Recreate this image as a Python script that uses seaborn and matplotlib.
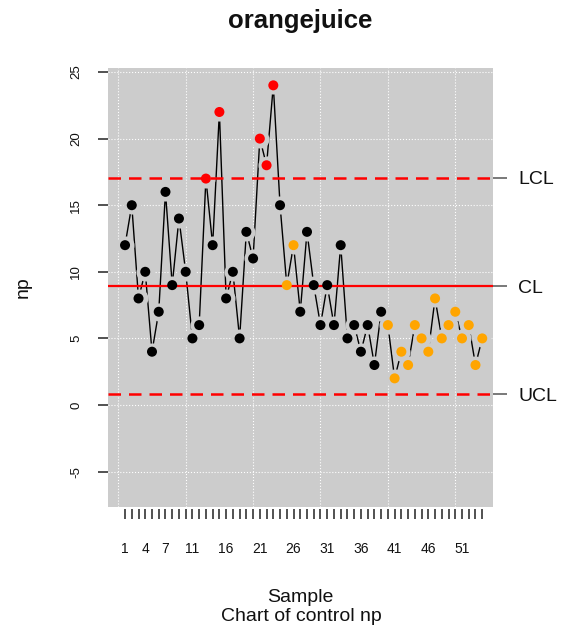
import matplotlib
matplotlib.use("Agg")
import matplotlib.pyplot as plt
import seaborn as sns
import pandas as pd

# orangejuice np chart data
sample = list(range(1, 55))
defects = [12, 15, 8, 10, 4, 7, 16, 9, 14, 10, 5, 6, 17, 12, 22, 8, 10, 5,
           13, 11, 20, 18, 24, 15, 9, 12, 7, 13, 9, 6, 9, 6, 12, 5, 6, 4,
           6, 3, 7, 6, 2, 4, 3, 6, 5, 4, 8, 5, 6, 7, 5, 6, 3, 5]
# point status: n = normal, out = beyond limit, run = violating run
status = (["n"] * 12 + ["out"] + ["n"] + ["out"] + ["n"] * 5 + ["out"] * 3
          + ["n"] + ["run"] * 2 + ["n"] * 13 + ["run"] * 15)
cl = 8.93
lcl_top = 17.05
ucl_bottom = 0.81
limit_labels = ["UCL", "CL", "LCL"]
xtick_labels = [1, 4, 7, 11, 16, 21, 26, 31, 36, 41, 46, 51]

df = pd.DataFrame({"sample": sample, "np": defects, "status": status})
palette = {"n": "black", "out": "#ff0000", "run": "#ffa500"}

sns.set_style("darkgrid", {"axes.facecolor": "#cccccc", "grid.color": "white",
                           "grid.linestyle": ":", "grid.linewidth": 1.0,
                           "text.color": "#111111", "axes.labelcolor": "#111111",
                           "xtick.color": "#111111", "ytick.color": "#111111"})
plt.rcParams["font.family"] = ["Liberation Sans", "DejaVu Sans"]

fig = plt.figure(figsize=(5.63, 6.34), dpi=100)
ax = fig.add_axes([0.1918, 0.2003, 0.6839, 0.6924])

sns.lineplot(data=df, x="sample", y="np", color="black", linewidth=1.0,
             ax=ax, zorder=2)
# mask around points gives the R type="b" gaps
sns.scatterplot(data=df, x="sample", y="np", color="#cccccc", s=170,
                linewidth=0, ax=ax, zorder=3, legend=False)
ax.axhline(cl, color="#ff0000", linewidth=1.6, zorder=4)
ax.axhline(lcl_top, color="#ff0000", linewidth=1.8, linestyle=(0, (5, 3.2)), zorder=4)
ax.axhline(ucl_bottom, color="#ff0000", linewidth=1.8, linestyle=(0, (5, 3.2)), zorder=4)
sns.scatterplot(data=df, x="sample", y="np", hue="status", palette=palette,
                s=52, linewidth=0, ax=ax, zorder=5, legend=False)

ax.set_xlim(-1.53, 55.6)
ax.set_ylim(-7.66, 25.3)
for sp in ax.spines.values():
    sp.set_visible(False)

ax.xaxis.remove_overlapping_locs = False
ax.set_xticks(sample)
ax.set_xticklabels([str(s) if s in xtick_labels else "" for s in sample],
                   fontsize=9)
ax.set_xticks(range(0, 51, 10), minor=True)
ax.set_yticks(range(-5, 26, 5))
ax.set_yticklabels([str(v) for v in range(-5, 26, 5)], rotation=90,
                   va="center", fontsize=9.5)
ax.grid(False, which="major", axis="x")
ax.grid(True, which="minor", axis="x")
ax.grid(True, which="major", axis="y")
ax.tick_params(axis="x", which="major", direction="out", length=7.5, width=1.1,
               color="#222222", pad=16, bottom=True)
ax.tick_params(axis="x", which="minor", length=0)
ax.spines["bottom"].set_position(("outward", 1.5))
ax.tick_params(axis="y", direction="out", length=7.5, width=1.1,
               color="#222222", pad=11, left=True)

ax2 = ax.twinx()
ax2.set_ylim(ax.get_ylim())
ax2.set_yticks([ucl_bottom, cl, lcl_top])
ax2.set_yticklabels(limit_labels, fontsize=14)
ax2.tick_params(axis="y", direction="out", length=10, width=1.1,
                color="#555555", pad=8, right=True)
ax2.grid(False)
for sp in ax2.spines.values():
    sp.set_visible(False)

ax.set_xlabel("Sample", fontsize=14, labelpad=24)
ax.set_ylabel("np", fontsize=14, labelpad=28)
fig.text(0.5355, 0.021, "Chart of control np", ha="center", fontsize=14)
ax.set_title("orangejuice", fontsize=18.5, fontweight="bold", pad=29)

fig.savefig("out.png", dpi=100)
